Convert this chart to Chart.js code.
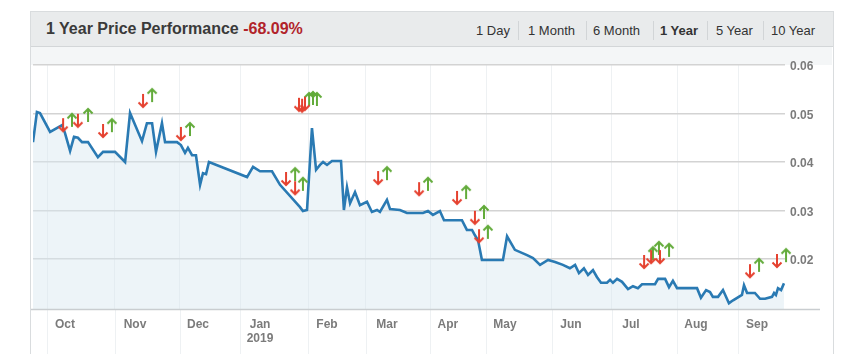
<!DOCTYPE html>
<html>
<head>
<meta charset="utf-8">
<script src="https://cdn.jsdelivr.net/npm/chart.js@4/dist/chart.umd.min.js"></script>
<style>
  html,body{margin:0;padding:0;background:#fff;width:844px;height:354px;overflow:hidden;font-family:"Liberation Sans",Arial,sans-serif;}
  #panel{position:absolute;left:30px;top:11px;width:802px;height:360px;border:1px solid #d9dcde;background:#fff;}
  #head{position:absolute;left:0;top:0;width:802px;height:34px;background:#e9ebec;border-bottom:1px solid #d3d6d8;}
  #title{position:absolute;left:15px;top:8px;font-size:16px;font-weight:bold;color:#3a3a3a;white-space:nowrap;}
  #title .chg{color:#b1232a;}
  .btn{position:absolute;top:11px;font-size:13px;color:#333;white-space:nowrap;}
  .btn.on{font-weight:bold;}
  .sep{position:absolute;top:9px;width:1px;height:19px;background:#d2d5d7;}
  #wrap{position:absolute;left:0;top:35px;width:801px;height:308px;}
</style>
</head>
<body>
<div id="panel">
  <div id="head">
    <div id="title">1 Year Price Performance <span class="chg">-68.09%</span></div>
    <span class="btn" style="left:445px">1 Day</span>
    <span class="sep" style="left:487px"></span>
    <span class="btn" style="left:497px">1 Month</span>
    <span class="sep" style="left:555px"></span>
    <span class="btn" style="left:562px">6 Month</span>
    <span class="sep" style="left:622px"></span>
    <span class="btn on" style="left:629px">1 Year</span>
    <span class="sep" style="left:676px"></span>
    <span class="btn" style="left:685px">5 Year</span>
    <span class="sep" style="left:732px"></span>
    <span class="btn" style="left:740px">10 Year</span>
  </div>
  <div id="wrap"><canvas id="c" width="801" height="308"></canvas></div>
</div>
<script>
// ---- data (x = time position on the axis, in days; y = price) ----
const priceX = [-7.0,-5.1,-3.6,1.3,7.1,8.5,11.0,12.9,14.8,16.8,19.7,24.5,27.0,32.8,37.7,40.1,45.9,48.3,50.8,52.7,55.6,57.1,62.9,64.8,66.8,68.2,70.2,72.1,74.1,75.5,77.0,78.4,96.9,99.8,103.2,109.0,112.9,122.6,124.0,126.0,128.4,130.4,132.3,133.8,135.7,138.1,142.5,143.9,145.4,146.9,149.3,151.7,155.1,157.5,160.0,161.4,164.8,166.3,171.1,174.5,182.3,184.7,187.1,190.5,192.5,201.2,203.6,206.1,207.5,209.0,210.9,221.1,223.1,226.9,232.8,235.7,239.1,243.0,246.4,250.2,253.6,256.1,258.0,260.4,262.4,264.8,266.7,268.7,271.6,273.1,274.5,276.5,278.9,281.8,284.2,286.6,288.6,294.9,296.4,299.8,301.7,303.6,305.6,315.3,317.2,319.7,321.6,323.0,325.5,327.9,330.8,332.8,337.1,338.1,339.6,343.4,345.9,348.3,351.7,352.7,353.6,354.6,356.1,357.5];
const priceY = [0.0441,0.0503,0.0501,0.0462,0.0476,0.0460,0.0423,0.0452,0.0450,0.0441,0.0441,0.0410,0.0421,0.0421,0.0400,0.0501,0.0443,0.0480,0.0480,0.0421,0.0480,0.0441,0.0441,0.0435,0.0419,0.0429,0.0414,0.0414,0.0353,0.0377,0.0375,0.0400,0.0369,0.0390,0.0381,0.0381,0.0353,0.0307,0.0299,0.0301,0.0470,0.0384,0.0394,0.0400,0.0394,0.0402,0.0402,0.0301,0.0348,0.0315,0.0338,0.0311,0.0318,0.0297,0.0301,0.0297,0.0322,0.0303,0.0301,0.0295,0.0295,0.0299,0.0291,0.0299,0.0280,0.0280,0.0260,0.0260,0.0249,0.0239,0.0198,0.0198,0.0247,0.0219,0.0208,0.0202,0.0188,0.0198,0.0194,0.0188,0.0181,0.0188,0.0171,0.0181,0.0167,0.0177,0.0163,0.0151,0.0151,0.0157,0.0151,0.0159,0.0153,0.0138,0.0144,0.0140,0.0148,0.0148,0.0159,0.0159,0.0142,0.0155,0.0140,0.0140,0.0120,0.0136,0.0132,0.0122,0.0122,0.0136,0.0109,0.0115,0.0126,0.0146,0.0130,0.0130,0.0118,0.0118,0.0122,0.0130,0.0126,0.0140,0.0136,0.0150];

// sell markers (red down arrows)
const sellX = [7.6,14.8,27.0,46.4,64.8,115.8,120.2,122.1,123.6,125.0,160.5,180.4,198.8,207.5,209.5,289.6,293.0,297.3,341.0,354.1];
const sellY = [0.0476,0.0485,0.0464,0.0526,0.0458,0.0365,0.0346,0.0518,0.0516,0.0520,0.0367,0.0344,0.0326,0.0285,0.0247,0.0194,0.0204,0.0204,0.0175,0.0196];
// buy markers (green up arrows)
const buyX = [11.9,19.7,31.3,50.8,69.2,120.2,124.0,127.0,128.9,130.8,164.8,184.7,203.2,211.9,213.8,293.9,296.8,301.7,345.4,358.5];
const buyY = [0.0487,0.0497,0.0476,0.0538,0.0468,0.0375,0.0355,0.0530,0.0532,0.0530,0.0377,0.0355,0.0338,0.0297,0.0256,0.0212,0.0223,0.0219,0.0188,0.0208];

// axis ticks
const monthGrid = [-0.2,32.8,64.3,93.5,126.5,154.6,185.7,212.9,244.9,274.0,305.6,335.2];
const monthLabelPos = [8.5,42.5,73.1,103.2,135.7,164.8,194.4,222.1,254.1,283.2,314.8,344.4];
const monthLabels = ['Oct','Nov','Dec',['Jan','2019'],'Feb','Mar','Apr','May','Jun','Jul','Aug','Sep'];
const priceTicks = [0.02,0.03,0.04,0.05,0.06];

function arrow(color, up, w){
  const c = document.createElement('canvas');
  c.width = 12; c.height = 16;
  const g = c.getContext('2d');
  g.strokeStyle = color; g.lineWidth = w; g.lineCap = 'butt'; g.lineJoin='miter';
  g.beginPath();
  if (up){
    g.moveTo(6,15); g.lineTo(6,2);
    g.moveTo(1.5,6.5); g.lineTo(6,2); g.lineTo(10.5,6.5);
  } else {
    g.moveTo(6,1); g.lineTo(6,14);
    g.moveTo(1.5,9.5); g.lineTo(6,14); g.lineTo(10.5,9.5);
  }
  g.stroke();
  return c;
}
const downImg = arrow('#e5412f', false, 2);
const upImg = arrow('#62ab3a', true, 2);

const pts = (xs, ys) => xs.map((x,i)=>({x:x, y:ys[i]}));

const extras = {
  id:'extras',
  beforeDraw(chart){
    const {ctx, chartArea:a} = chart;
    ctx.save();
    ctx.fillStyle = '#f4f6f7';
    ctx.fillRect(0,0,chart.width,a.top);
    ctx.restore();
  },
  afterDraw(chart){
    const {ctx, chartArea:a, scales:{x}} = chart;
    ctx.save();
    ctx.strokeStyle = '#eef1f3'; ctx.lineWidth = 1;
    monthGrid.forEach(v=>{
      const px = Math.round(x.getPixelForValue(v))+0.5;
      ctx.beginPath(); ctx.moveTo(px,a.bottom); ctx.lineTo(px,chart.height); ctx.stroke();
    });
    ctx.strokeStyle = '#c9cdd0'; ctx.lineWidth = 1.5;
    ctx.beginPath(); ctx.moveTo(0,a.bottom+0.5); ctx.lineTo(789,a.bottom+0.5); ctx.stroke();
    ctx.restore();
  }
};

new Chart(document.getElementById('c'), {
  type:'line',
  data:{
    datasets:[
      {type:'scatter', data:pts(sellX,sellY), pointStyle:downImg, pointRadius:6, clip:false, order:0},
      {type:'scatter', data:pts(buyX,buyY), pointStyle:upImg, pointRadius:6, clip:false, order:0},
      {data:pts(priceX,priceY), borderColor:'#2a7ab3', borderWidth:2.6, pointRadius:0, tension:0,
       fill:'start', backgroundColor:'rgba(214,230,240,0.45)', order:1}
    ]
  },
  plugins:[extras],
  options:{
    responsive:false, animation:false,
    layout:{autoPadding:false, padding:{left:2, top:18, right:0, bottom:0}},
    plugins:{legend:{display:false}, tooltip:{enabled:false}},
    scales:{
      x:{type:'linear', min:-7, max:358,
         afterBuildTicks(s){ s.ticks = monthGrid.map(v=>({value:v})).concat(monthLabelPos.map(v=>({value:v}))).sort((a,b)=>a.value-b.value); },
         afterFit(s){ s.height = 46; s.paddingLeft = 0; s.paddingRight = 0; },
         grid:{drawTicks:false, color:(c)=> (c.tick && monthGrid.includes(c.tick.value)) ? '#eef1f3' : 'rgba(0,0,0,0)', lineWidth:1},
         border:{display:false},
         ticks:{autoSkip:false, maxRotation:0, padding:8, color:'#7b7b7b', font:{family:'Liberation Sans', size:12, weight:'bold'},
           callback:(v)=>{ const i = monthLabelPos.indexOf(v); return i>=0 ? monthLabels[i] : ''; }}
      },
      y:{type:'linear', position:'right', min:0.0097, max:0.06,
         afterBuildTicks(s){ s.ticks = priceTicks.map(v=>({value:v})); },
         afterFit(s){ s.width = 47; },
         grid:{drawTicks:false, color:'#d3d3d3', lineWidth:1.5},
         border:{display:false},
         ticks:{padding:5, labelOffset:2, color:'#7b7b7b', font:{family:'Liberation Sans', size:12, weight:'bold'},
           callback:(v)=>v.toFixed(2)}
      }
    }
  }
});
</script>
</body>
</html>
